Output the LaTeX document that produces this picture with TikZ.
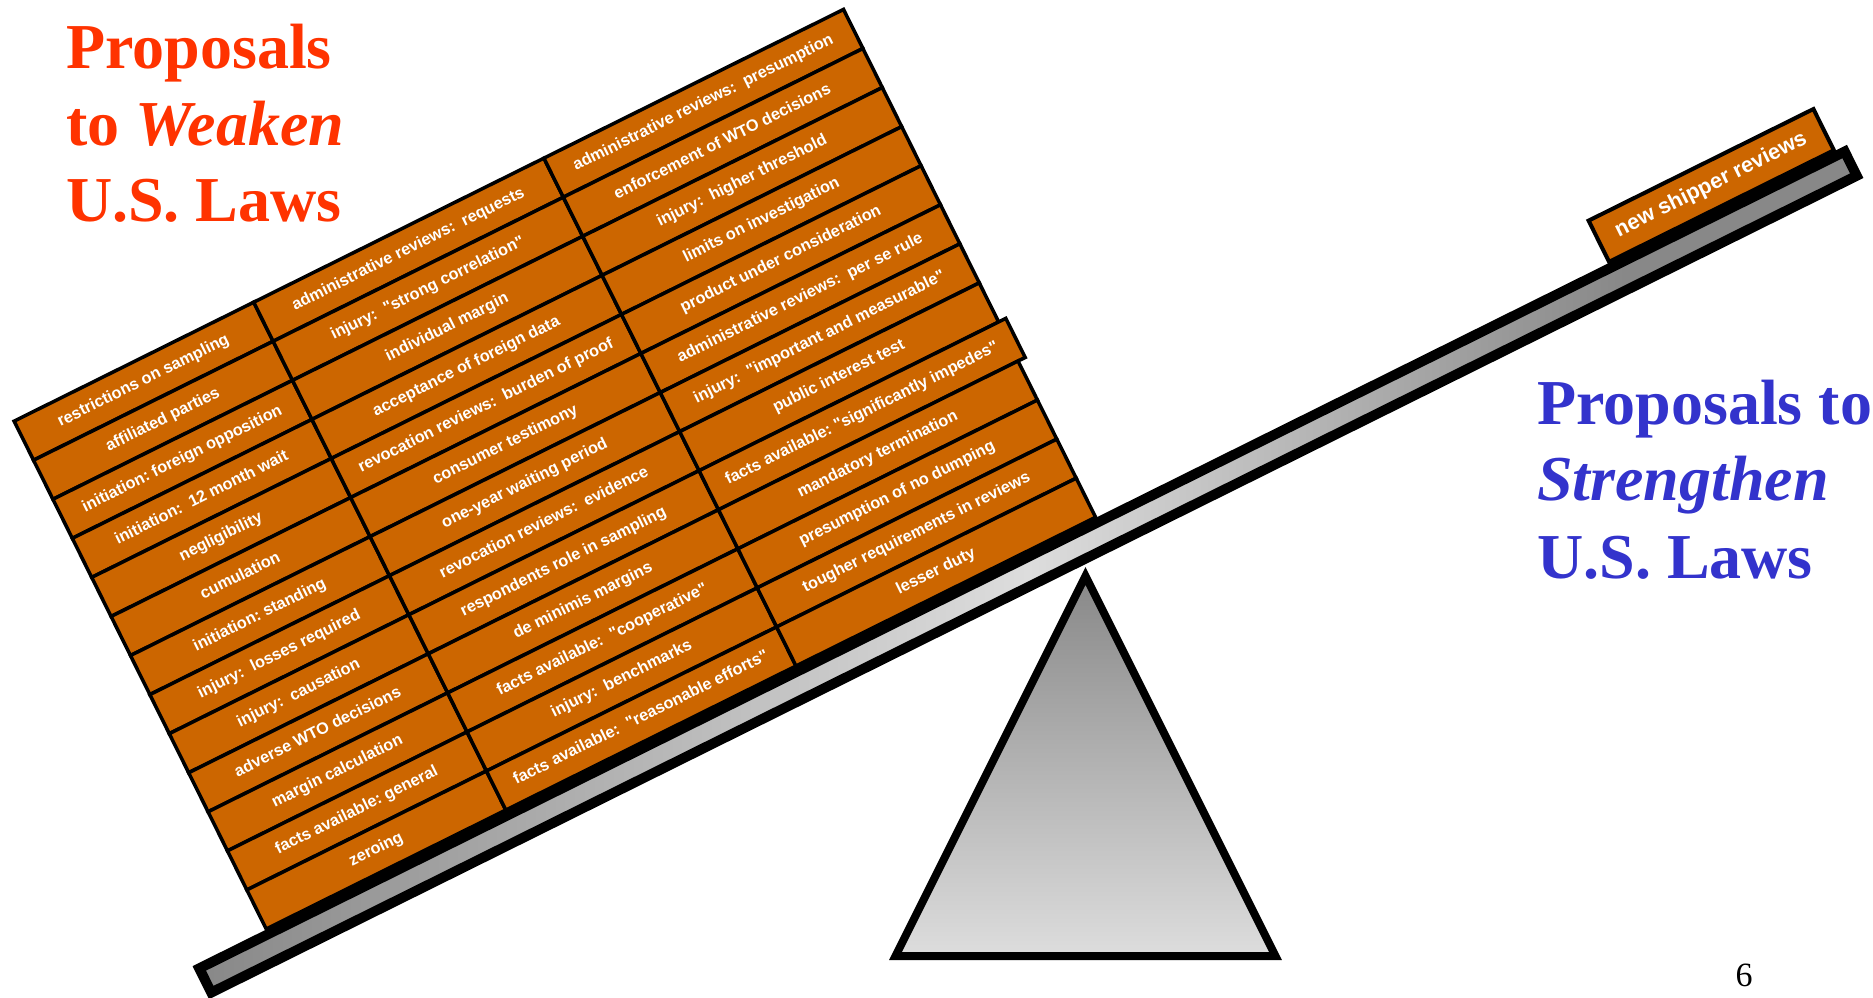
\documentclass[tikz,border=0pt]{standalone}
\usepackage{fontspec}
\setmainfont{Liberation Serif}
\newfontfamily\labfont{Liberation Sans}
\definecolor{boxorange}{RGB}{204,102,0}
\definecolor{titlered}{RGB}{255,51,0}
\definecolor{titleblue}{RGB}{51,51,204}
\definecolor{beamdark}{RGB}{136,136,136}
\definecolor{beamlight}{RGB}{221,221,221}
\pgfdeclarehorizontalshading{beamshade}{100bp}{color(0bp)=(beamdark); color(25bp)=(beamdark); color(50bp)=(beamlight); color(68bp)=(beamdark); color(100bp)=(beamdark)}
\tikzset{
  lbox/.style={draw, line width=3.5pt, fill=boxorange, text=white,
    font=\labfont\bfseries\frenchspacing\fontsize{16.3}{18}\selectfont,
    minimum height=43.615pt, inner sep=0pt, text height=11.5pt, text depth=3.5pt, anchor=center},
  titleL/.style={anchor=base west, inner sep=0pt, text=titlered, font=\bfseries\fontsize{64}{76}\selectfont},
  titleR/.style={anchor=base west, inner sep=0pt, text=titleblue, font=\bfseries\fontsize{64}{76}\selectfont},
}
\begin{document}
\begin{tikzpicture}[x=1pt,y=1pt]
\useasboundingbox (0,0) rectangle (1873,-998);
% fulcrum
\draw[line width=8pt, top color=beamdark, bottom color=beamlight]
  (1085.5,-576) -- (1275.5,-956) -- (895.5,-956) -- cycle;
% beam
\draw[line width=10pt, shade, shading=beamshade]
  (211.26,-992.54) -- (1856.69,-175.74) -- (1844.68,-151.55) -- (199.26,-968.36) -- cycle;
\begin{scope}[shift={(193,-967)}, rotate=26.4, transform shape]
  % left column
  \foreach \t [count=\i from 0] in {
    {restrictions on sampling},
    {affiliated parties},
    {initiation: foreign opposition},
    {initiation:\ \ 12 month wait},
    {negligibility},
    {cumulation},
    {initiation: standing},
    {injury:\ \ losses required},
    {injury:\ \ causation},
    {adverse WTO decisions},
    {margin calculation},
    {facts available: general},
    {zeroing}}{
    \node[lbox, minimum width=267.5pt] (L\i) at (216.25, {568.5-(\i+0.5)*43.615}) {\t};
  }
  % middle column
  \foreach \t [count=\i from 0] in {
    {administrative reviews:\ \ requests},
    {injury:\ \ "strong correlation"},
    {individual margin},
    {acceptance of foreign data},
    {revocation reviews:\ \ burden of proof},
    {consumer testimony},
    {one-year waiting period},
    {revocation reviews:\ \ evidence},
    {respondents role in sampling},
    {de minimis margins},
    {facts available:\ \ "cooperative"},
    {injury:\ \ benchmarks},
    {facts available:\ \ "reasonable efforts"}}{
    \node[lbox, minimum width=324pt] (M\i) at (512, {568.5-(\i+0.5)*43.615}) {\t};
  }
  % right column
  \foreach \t/\dw [count=\i from 0] in {
    {administrative reviews:\ \ presumption}/0,
    {enforcement of WTO decisions}/0,
    {injury:\ \ higher threshold}/0,
    {limits on investigation}/0,
    {product under consideration}/0,
    {administrative reviews:\ \ per se rule}/0,
    {injury:\ \ "important and measurable"}/0,
    {public interest test}/0,
    {facts available: "significantly impedes"}/8,
    {mandatory termination}/0,
    {presumption of no dumping}/0,
    {tougher requirements in reviews}/0,
    {lesser duty}/0}{
    \node[lbox, minimum width={334.5pt+\dw pt}] (R\i) at ({841.25+\dw/2}, {568.5-(\i+0.5)*43.615}) {\t};
  }
  % right pan item
  \node[lbox, line width=4pt, minimum width=251pt, minimum height=46pt,
        font=\labfont\bfseries\fontsize{21.6}{24}\selectfont, text height=15pt, text depth=4.5pt]
        (ns) at (1707.5, 25) {new shipper reviews};
\end{scope}
% titles
\node[titleL] (tl1) at (66,-68) {Proposals};
\node[titleL] (tl2) at (66,-145.7) {to \textit{Weaken}};
\node[titleL] (tl3) at (66,-221) {U.S. Laws};
\node[titleR] (tr1) at (1537,-424) {Proposals to};
\node[titleR] (tr2) at (1537,-500.5) {\textit{Strengthen}};
\node[titleR] (tr3) at (1537,-578) {U.S. Laws};
\node[anchor=base, inner sep=0pt, font=\fontsize{34}{36}\selectfont] (pg) at (1744,-986) {6};
\end{tikzpicture}
\end{document}
